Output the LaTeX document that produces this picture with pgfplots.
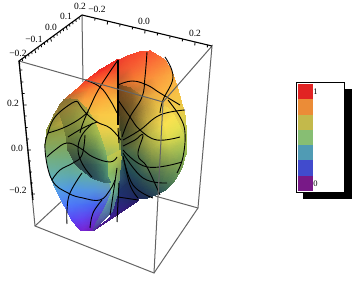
\documentclass[border=0pt]{standalone}
\usepackage{fontspec}
\setmainfont{Liberation Serif}
\usepackage{pgfplots}
\pgfplotsset{compat=1.18}
\usepgfplotslibrary{patchplots}
\definecolor{gl}{RGB}{100,100,100}
\pgfplotsset{mlat/.style={patch,patch type=rectangle,mesh input=lattice,mesh/cols=#1,shader=interp,mesh/color input=explicit,forget plot},
 gb/.style={gl,line width=1pt,forget plot},
 bk/.style={black,line width=0.9pt,forget plot,smooth,tension=0.7},
 ax/.style={black,line width=1.1pt,forget plot,unbounded coords=jump}}
\begin{document}
\begin{tikzpicture}
\useasboundingbox (0,0) rectangle (360pt,283pt);
\begin{axis}[at={(0,0)},anchor=south west,width=360pt,height=283pt,scale only axis,xmin=0,xmax=360,ymin=0,ymax=283,y dir=reverse,hide axis,clip=false]
% back box edges
\addplot[gb] coordinates {(82,15) (83,82)};
\addplot[gb] coordinates {(35,226) (78,186)};
\addplot[gb] coordinates {(198,208) (155,196)};
% left shell
\addplot[mlat=4] table[meta=c] {
x y c
117 60 rgb255=240,40,35
118 60 rgb255=240,45,35
118.5 60 rgb255=240,50,38
119 60 rgb255=240,60,40
100 70 rgb255=240,40,35
107 70 rgb255=245,60,40
113 70 rgb255=245,70,40
119 70 rgb255=240,80,45
87 80 rgb255=245,60,40
98 80 rgb255=250,90,45
108 80 rgb255=250,110,50
119 80 rgb255=235,120,50
76 90 rgb255=240,90,40
90 90 rgb255=250,130,50
105 90 rgb255=252,150,55
119 90 rgb255=235,150,55
64 100 rgb255=170,110,50
85 100 rgb255=250,160,60
103 100 rgb255=252,175,60
119 100 rgb255=245,185,65
54 115 rgb255=140,130,55
80 115 rgb255=230,180,65
100 115 rgb255=250,200,70
119 115 rgb255=250,205,70
47 130 rgb255=140,150,60
75 130 rgb255=150,160,70
98 130 rgb255=235,205,75
119 130 rgb255=235,210,75
45 145 rgb255=135,165,90
75 145 rgb255=130,165,90
98 145 rgb255=190,195,80
120 145 rgb255=200,200,75
47 160 rgb255=115,175,130
75 160 rgb255=110,170,130
98 160 rgb255=130,180,110
120 160 rgb255=170,190,90
50 175 rgb255=100,175,175
70 175 rgb255=95,170,170
95 175 rgb255=100,175,160
119 175 rgb255=120,175,120
56 190 rgb255=85,160,230
72 190 rgb255=80,150,230
95 190 rgb255=85,150,220
118 190 rgb255=100,150,180
64 205 rgb255=80,125,250
78 205 rgb255=75,115,245
95 205 rgb255=70,100,240
112 205 rgb255=80,90,190
72 220 rgb255=90,70,245
82 220 rgb255=100,65,240
92 220 rgb255=100,55,220
100 222 rgb255=90,50,180
80 230 rgb255=115,35,215
84 231 rgb255=120,35,210
88 231 rgb255=115,30,200
92 231 rgb255=110,30,185
};
% right shell
\addplot[mlat=4] table[meta=c] {
x y c
119 60 rgb255=240,60,45
128 56 rgb255=245,70,45
140 52 rgb255=250,75,45
150 51 rgb255=250,85,50
119 70 rgb255=235,80,45
132 68 rgb255=245,95,50
148 64 rgb255=250,110,55
165 60 rgb255=250,125,55
119 80 rgb255=200,90,45
135 80 rgb255=245,125,50
155 78 rgb255=250,150,60
173 74 rgb255=250,170,65
119 88 rgb255=180,100,45
138 90 rgb255=200,120,50
160 92 rgb255=250,175,65
179 93 rgb255=248,195,70
119 100 rgb255=150,100,40
145 100 rgb255=220,170,65
170 110 rgb255=240,205,75
185 115 rgb255=225,205,75
119 120 rgb255=100,80,40
150 120 rgb255=170,160,70
175 130 rgb255=230,220,80
187 135 rgb255=175,195,80
119 150 rgb255=120,150,70
150 150 rgb255=150,160,70
175 150 rgb255=160,185,85
186 155 rgb255=150,185,85
};
% bottom dark wedge
\addplot[mlat=2] table[meta=c] {
x y c
122 146 rgb255=190,190,70
124 146 rgb255=70,80,50
120 160 rgb255=90,130,90
124 165 rgb255=40,80,85
119 175 rgb255=50,90,110
128 183 rgb255=30,50,90
118 192 rgb255=30,50,110
136 197 rgb255=30,40,95
110 218 rgb255=60,30,150
139 200 rgb255=35,30,100
93 231 rgb255=85,25,150
139 200 rgb255=40,30,105
};
% pale strip
\addplot[mlat=2] table[meta=c] {
x y c
106 158 rgb255=180,200,85
122 150 rgb255=200,195,70
108 175 rgb255=135,190,105
120 170 rgb255=130,160,85
112 192 rgb255=120,190,160
118 192 rgb255=90,150,130
105 208 rgb255=90,140,170
112 212 rgb255=75,110,150
93 229 rgb255=85,60,170
93 231 rgb255=80,50,160
};
% left hollow
\addplot[mlat=4] table[meta=c] {
x y c
60 105 rgb255=130,110,50
64 100 rgb255=135,110,50
70 99 rgb255=140,115,50
77 100 rgb255=150,130,55
58 108 rgb255=140,120,50
66 108 rgb255=150,130,55
76 108 rgb255=155,145,60
86 108 rgb255=165,160,65
62 120 rgb255=130,130,55
72 120 rgb255=135,140,60
84 120 rgb255=155,165,70
94 120 rgb255=175,185,75
66 135 rgb255=110,125,55
78 135 rgb255=110,130,62
90 135 rgb255=135,160,72
100 135 rgb255=165,190,80
68 150 rgb255=75,95,58
82 150 rgb255=75,105,68
95 150 rgb255=95,135,82
105 150 rgb255=135,178,95
76 165 rgb255=45,70,70
87 165 rgb255=45,75,75
98 165 rgb255=60,105,90
108 165 rgb255=90,155,110
92 178 rgb255=40,75,90
98 179 rgb255=45,85,95
104 180 rgb255=55,110,105
108 178 rgb255=75,135,115
105 182.5 rgb255=60,110,115
107 183 rgb255=60,110,115
109 183 rgb255=60,110,115
111 183 rgb255=60,110,115
};
% right dome
\addplot[mlat=5] table[meta=c] {
x y c
119 85 rgb255=120,70,30
130 88 rgb255=145,90,35
143 97 rgb255=190,140,55
155 102 rgb255=225,180,65
168 108 rgb255=245,215,80
119 100 rgb255=105,70,30
132 102 rgb255=125,90,38
146 108 rgb255=185,150,60
160 112 rgb255=235,200,75
174 116 rgb255=250,225,80
120 115 rgb255=80,65,30
133 117 rgb255=115,95,42
148 122 rgb255=195,170,65
165 125 rgb255=248,225,80
180 127 rgb255=230,225,80
121 130 rgb255=60,65,35
135 132 rgb255=100,100,48
150 135 rgb255=185,180,72
168 138 rgb255=225,220,80
185 140 rgb255=190,205,80
122 145 rgb255=65,80,50
137 147 rgb255=105,120,62
152 149 rgb255=155,165,72
170 151 rgb255=170,188,80
186 153 rgb255=150,185,85
122 155 rgb255=50,90,75
137 160 rgb255=65,100,72
152 163 rgb255=110,135,72
170 166 rgb255=120,150,80
182 168 rgb255=120,160,85
124 170 rgb255=30,70,85
137 175 rgb255=40,80,85
150 178 rgb255=60,95,80
163 181 rgb255=75,115,80
175 180 rgb255=90,135,85
128 183 rgb255=30,50,90
137 187 rgb255=30,55,85
147 190 rgb255=35,65,85
157 191 rgb255=45,80,85
167 189 rgb255=60,105,85
136 197 rgb255=30,40,90
140 199 rgb255=30,40,90
145 199 rgb255=30,45,88
150 197 rgb255=35,55,85
156 195 rgb255=40,70,85
};
% mesh lines, left lobe
\addplot[bk] coordinates {(85,80) (100,87) (110,100) (117,113)};
\addplot[bk] coordinates {(118,60) (100,87) (90,107) (83,123) (80,133)};
\addplot[bk] coordinates {(48,133) (55,117) (72,103) (78,102)};
\addplot[bk] coordinates {(48,133) (63,128) (78,120) (88,112)};
\addplot[bk] coordinates {(78,102) (85,112) (97,122) (110,128) (121,140)};
\addplot[bk] coordinates {(93,123) (82,135) (78,150) (83,165) (92,177)};
\addplot[bk] coordinates {(47,157) (55,150) (67,143) (80,148) (93,157) (110,162) (117,157)};
\addplot[bk] coordinates {(52,180) (60,170) (73,163) (82,155) (85,135)};
\addplot[bk] coordinates {(48,133) (45,150) (52,180) (68,193) (83,198) (100,200) (110,190) (115,180)};
\addplot[bk] coordinates {(82,173) (70,193) (67,210) (67,224)};
\addplot[bk] coordinates {(102,200) (93,213) (90,228)};
\addplot[bk] coordinates {(68,137) (83,128) (97,122)};
% heavy centre seam
\addplot[black,line width=1.1pt,forget plot] coordinates {(118,60) (118,125)};
\addplot[black,line width=1pt,forget plot] coordinates {(118,128) (119,143)};
\addplot[black,line width=1pt,forget plot] coordinates {(119,183) (117,222)};
% mesh lines, right lobe
\addplot[bk] coordinates {(118,85) (132,81) (147,85) (160,93) (180,105)};
\addplot[bk] coordinates {(147,52) (145,77) (142,97) (130,117) (122,137)};
\addplot[bk] coordinates {(165,57) (173,77) (163,100) (160,113)};
\addplot[bk] coordinates {(118,100) (130,117) (140,130) (157,140) (180,137)};
\addplot[bk] coordinates {(185,110) (160,115) (140,130) (123,140)};
\addplot[bk] coordinates {(168,100) (180,117) (185,133) (183,157) (177,173)};
\addplot[bk] coordinates {(123,146) (135,140) (143,135) (138,155) (147,167) (160,195)};
\addplot[bk] coordinates {(123,150) (147,167) (182,162)};
\addplot[bk] coordinates {(123,153) (143,178) (167,183)};
\addplot[bk] coordinates {(123,156) (133,185) (153,198)};
\addplot[bk] coordinates {(124,160) (130,185) (138,198)};
\addplot[black,line width=0.9pt,forget plot] coordinates {(118,197) (138,200)};
\addplot[bk] coordinates {(117,168) (112,202) (110,215)};
% front grey box edges
\addplot[gb] coordinates {(19,61) (163,102) (212,46) (198,208) (154,273) (35,226) (19,61)};
\addplot[gb] coordinates {(163,102) (154,273)};
% black axes with ticks
\addplot[ax] coordinates {(82,15) (19,61) (33,200)};
\addplot[ax] coordinates {(82,15) (212,46)};
\addplot[black,line width=0.8pt,forget plot,unbounded coords=jump] coordinates {
(19.8,70) (22.3,70) (nan,nan) (21,82) (23.5,82) (nan,nan) (22.1,93.5) (24.6,93.5) (nan,nan) (23.1,105) (26.6,105) (nan,nan)
(24.2,116) (26.7,116) (nan,nan) (25.2,127.5) (27.7,127.5) (nan,nan) (26.3,139) (28.8,139) (nan,nan) (27.4,150) (30.9,150) (nan,nan)
(28.4,161) (30.9,161) (nan,nan) (29.4,172) (31.9,172) (nan,nan) (30.5,183) (33,183) (nan,nan) (31.5,194) (35,194) (nan,nan)
(19,61) (20,64.5) (nan,nan) (22.15,58.7) (22.65,61) (nan,nan) (25.3,56.4) (25.8,58.7) (nan,nan) (28.45,54.1) (28.95,56.4) (nan,nan) (31.6,51.8) (32.1,54.1) (nan,nan)
(34.75,49.5) (35.75,53) (nan,nan) (37.9,47.2) (38.4,49.5) (nan,nan) (41.05,44.9) (41.55,47.2) (nan,nan) (44.2,42.6) (44.7,44.9) (nan,nan) (47.35,40.3) (47.85,42.6) (nan,nan)
(50.5,38) (51.5,41.5) (nan,nan) (53.65,35.7) (54.15,38) (nan,nan) (56.8,33.4) (57.3,35.7) (nan,nan) (59.95,31.1) (60.45,33.4) (nan,nan) (63.1,28.8) (63.6,31.1) (nan,nan)
(66.25,26.5) (67.25,30) (nan,nan) (69.4,24.2) (69.9,26.5) (nan,nan) (72.55,21.9) (73.05,24.2) (nan,nan) (75.7,19.6) (76.2,21.9) (nan,nan) (78.85,17.3) (79.35,19.6) (nan,nan)
(95,18.1) (94.8,20.6) (nan,nan) (107.5,21.1) (107.3,24.6) (nan,nan) (120,24.1) (119.8,26.6) (nan,nan) (132.5,27) (132.3,29.5) (nan,nan)
(145,30) (144.8,33.5) (nan,nan) (157.5,33) (157.3,35.5) (nan,nan) (170,36) (169.8,38.5) (nan,nan) (182.5,39) (182.3,41.5) (nan,nan)
(195,42) (194.8,45.5) (nan,nan) (207.5,45) (207.3,47.5) (nan,nan)
};
% legend
\addplot[fill=black,draw=none,forget plot] coordinates {(303,89) (351.7,89) (351.7,198.7) (303,198.7)} --cycle;
\addplot[fill=white,draw=black,line width=1pt,forget plot] coordinates {(296.7,82.3) (344.3,82.3) (344.3,192.3) (296.7,192.3)} --cycle;
\addplot[fill={rgb,255:red,225;green,35;blue,35},draw=none,forget plot] coordinates {(298,84) (313,84) (313,99) (298,99)} --cycle;
\addplot[fill={rgb,255:red,235;green,140;blue,55},draw=none,forget plot] coordinates {(298,99) (313,99) (313,115) (298,115)} --cycle;
\addplot[fill={rgb,255:red,195;green,185;blue,75},draw=none,forget plot] coordinates {(298,115) (313,115) (313,130) (298,130)} --cycle;
\addplot[fill={rgb,255:red,135;green,190;blue,115},draw=none,forget plot] coordinates {(298,130) (313,130) (313,145) (298,145)} --cycle;
\addplot[fill={rgb,255:red,80;green,155;blue,180},draw=none,forget plot] coordinates {(298,145) (313,145) (313,160) (298,160)} --cycle;
\addplot[fill={rgb,255:red,65;green,75;blue,205},draw=none,forget plot] coordinates {(298,160) (313,160) (313,175.7) (298,175.7)} --cycle;
\addplot[fill={rgb,255:red,120;green,25;blue,135},draw=none,forget plot] coordinates {(298,175.7) (313,175.7) (313,190.7) (298,190.7)} --cycle;
% labels
\foreach \x/\y/\t in {18/53/−0.2,34/39/−0.1,51/27/0.0,66/16/0.1,80/6.5/0.2,97/9.5/−0.2,144/21.7/0.0,195/33/0.2,13/103/0.2,17/148/0.0,18/190/−0.2}{
 \edef\tmp{\noexpand\node[font=\noexpand\fontsize{9.5}{10}\noexpand\selectfont,inner sep=0pt] at (axis cs:\x,\y) {\t};}\tmp}
\node[font=\fontsize{8.5}{9}\selectfont,inner sep=0pt] at (axis cs:315.5,91.5) {1};
\node[font=\fontsize{8.5}{9}\selectfont,inner sep=0pt] at (axis cs:315.5,183.5) {0};
\end{axis}
\end{tikzpicture}
\end{document}
